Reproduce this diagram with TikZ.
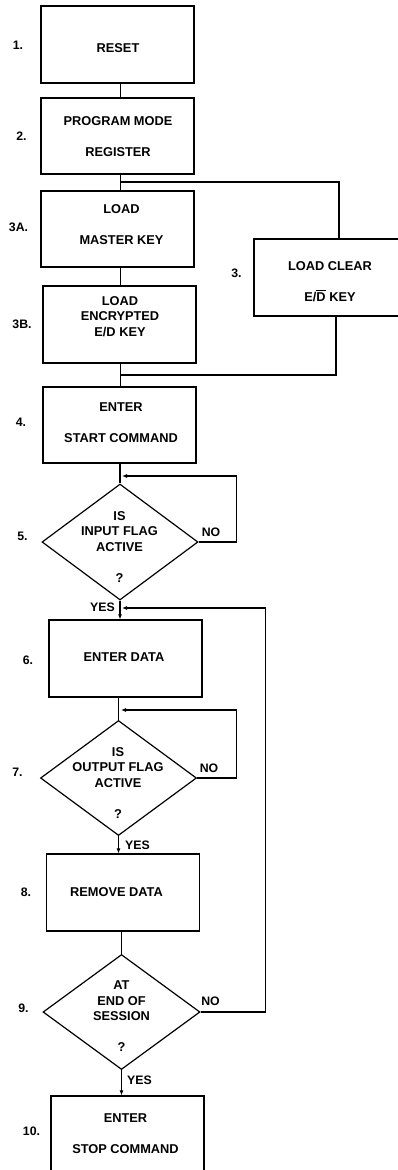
\documentclass[tikz,border=0pt]{standalone}
\usepackage{fontspec}
\setmainfont{Liberation Sans}
\usetikzlibrary{shapes.geometric,arrows.meta,calc}

% D with a bar over it (complemented signal)
\newcommand\barD{\setbox0\hbox{D}\rlap{\rule[10.4pt]{\wd0}{0.9pt}}D}

\begin{document}
\begin{tikzpicture}[x=1pt,y=-1pt,
  every node/.style={font=\fontsize{12.8}{15.5}\selectfont\bfseries},
  stepbox/.style={draw,line width=1.2pt,rectangle,inner sep=0pt,
    minimum width=153pt,minimum height=77pt},
  decision/.style={draw,line width=1.2pt,diamond,inner sep=0pt,
    minimum width=156pt,minimum height=116pt},
  txt/.style={align=center,inner sep=0pt,text depth=0pt},
  num/.style={inner sep=0pt,text depth=0pt,font=\fontsize{12.3}{14}\selectfont\bfseries},
  flow/.style={line width=1.2pt},
  arr/.style={flow,-{Latex[length=5pt,width=4pt]}},
]
\useasboundingbox (0,0) rectangle (398,1170);

% ---- process boxes and decisions ----
\node[stepbox] (b1) at (117.5,44.5) {};
\node[stepbox,minimum height=76pt] (b2) at (117.5,136) {};
\node[stepbox,minimum height=76pt] (b3a) at (117.5,229) {};
\node[stepbox] (b3b) at (119.5,324.5) {};
\node[stepbox,minimum width=152pt] (b3) at (330,277.5) {};
\node[stepbox,minimum height=76pt] (b4) at (119.5,425) {};
\node[decision] (d5) at (120,542) {};
\node[stepbox] (b6) at (125.5,658.5) {};
\node[decision,minimum height=115pt] (d7) at (118.5,778) {};
\node[stepbox] (b8) at (123,892.5) {};
\node[decision,minimum width=157pt,minimum height=115pt] (d9) at (121.5,1012) {};
\node[stepbox,minimum height=76pt] (b10) at (127.5,1134) {};

% ---- texts inside the shapes ----
\node[txt] (b1t) at (118,48) {RESET};
\node[txt] (b2t) at (118,136.5) {PROGRAM MODE\\[15.5pt]REGISTER};
\node[txt] (b3at) at (121.5,224.5) {LOAD\\[15.5pt]MASTER KEY};
\node[txt] (b3bt) at (120,316.5) {LOAD\\ENCRYPTED\\E/D KEY};
\node[txt] (b3t) at (330,281.5) {LOAD CLEAR\\[15.5pt]E/\barD{} KEY};
\node[txt] (b4t) at (121,422.5) {ENTER\\[15.5pt]START COMMAND};
\node[txt] (d5t) at (119.5,547) {IS\\INPUT FLAG\\ACTIVE\\[15.5pt]?};
\node[txt] (b6t) at (124,657) {ENTER DATA};
\node[txt] (d7t) at (118,783) {IS\\OUTPUT FLAG\\ACTIVE\\[15.5pt]?};
\node[txt] (b8t) at (116.5,892) {REMOVE DATA};
\node[txt] (d9t) at (121.5,1016.5) {AT\\END OF\\SESSION\\[15.5pt]?};
\node[txt] (b10t) at (125.5,1133.5) {ENTER\\[15.5pt]STOP COMMAND};

% ---- step numbers ----
\node[num] (n1) at (18,45.5) {1.};
\node[num] (n2) at (21.5,136) {2.};
\node[num] (n3a) at (18.5,227) {3A.};
\node[num] (n3b) at (22,324) {3B.};
\node[num] (n3) at (236.5,273.5) {3.};
\node[num] (n4) at (21,422) {4.};
\node[num] (n5) at (22.5,536.5) {5.};
\node[num] (n6) at (28,660.5) {6.};
\node[num] (n7) at (17.5,772.5) {7.};
\node[num] (n8) at (26,892.5) {8.};
\node[num] (n9) at (23.5,1008) {9.};
\node[num] (n10) at (31.5,1131.5) {10.};

% ---- branch labels ----
\node[num] (no5) at (211,532.5) {NO};
\node[num] (no7) at (209,768) {NO};
\node[num] (no9) at (210.5,1001.5) {NO};
\node[num] (yes5) at (102.5,607.5) {YES};
\node[num] (yes7) at (137.5,845.5) {YES};
\node[num] (yes9) at (139.5,1080.5) {YES};

% ---- connectors ----
\coordinate (col) at (120.5,0);
\coordinate (split) at (120.5,182);
\coordinate (merge) at (120.5,375);
\coordinate (in5) at (122,476);
\coordinate (in7) at (121,710);
\coordinate (in9) at (122,608);

\draw[flow] (b1.south -| col) -- (b2.north -| col);
\draw[flow] (b2.south -| col) -- (b3a.north -| col);
\draw[flow] (split) -| ([xshift=9pt]b3.north);
\draw[flow] (b3a.south -| col) -- (b3b.north -| col);
\draw[flow] (b3b.south -| col) -- (b4.north -| col);
\draw[flow] ([xshift=6pt]b3.south) |- (merge);

\draw[flow] (d5.north |- b4.south) -- (d5.north);
\draw[arr] (d5.east) -- ++(38,0) |- (in5);
\draw[arr] (d5.south) -- (d5.south |- b6.north);

\draw[flow] (d7.north |- b6.south) -- (d7.north);
\draw[arr] (d7.east) -- ++(39,0) |- (in7);
\draw[arr] (d7.south) -- (d7.south |- b8.north);

\draw[flow] (d9.north |- b8.south) -- (d9.north);
\draw[arr] (d9.east) -- ++(65,0) |- (in9);
\draw[arr] (d9.south) -- (d9.south |- b10.north);
\end{tikzpicture}
\end{document}
